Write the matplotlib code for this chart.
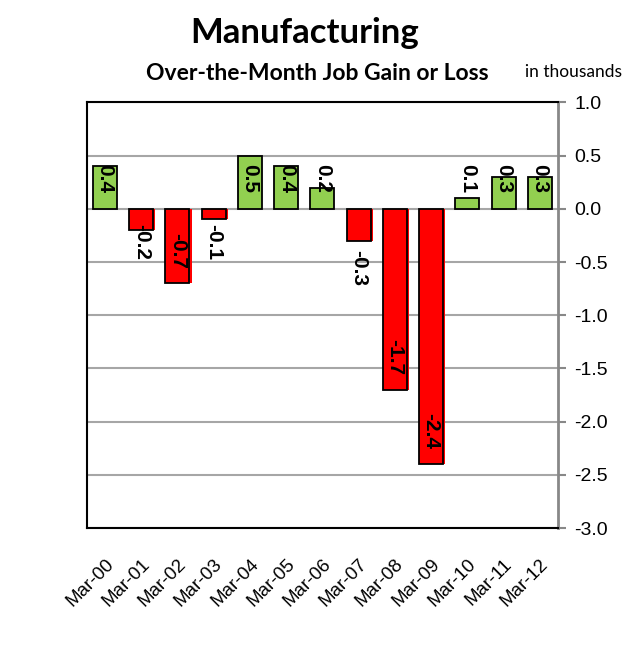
import numpy as np
import matplotlib.pyplot as plt

# ---------------- data ----------------
months = ["Mar-00", "Mar-01", "Mar-02", "Mar-03", "Mar-04", "Mar-05", "Mar-06",
          "Mar-07", "Mar-08", "Mar-09", "Mar-10", "Mar-11", "Mar-12"]
change = [0.4, -0.2, -0.7, -0.1, 0.5, 0.4, 0.2, -0.3, -1.7, -2.4, 0.1, 0.3, 0.3]
yticks = [1.0, 0.5, 0.0, -0.5, -1.0, -1.5, -2.0, -2.5, -3.0]

GREEN = "#92D050"
RED = "#FF0000"
GRID = "#A6A6A6"

fig = plt.figure(figsize=(6.34, 6.48), dpi=100)
ax = fig.add_axes([0.137, 0.185, 0.743, 0.657])

x = np.arange(len(change))
vals = np.array(change)
colors = [GREEN if v >= 0 else RED for v in vals]

# red bars have a small red shadow in the original
neg = vals < 0
ax.bar(x[neg] + 0.06, vals[neg], width=0.66, color=RED, zorder=2)
ax.bar(x, vals, width=0.66, color=colors, edgecolor="black", linewidth=1.3, zorder=3)

# ---------------- value labels ----------------
for xi, v in zip(x, vals):
    if v >= 0:
        ypos, va = 0.42, "top"
    elif v <= -0.5:
        ypos, va = v + 0.14, "bottom"
    elif v <= -0.3:
        ypos, va = v - 0.09, "top"
    else:
        ypos, va = -0.14, "top"
    ax.text(xi, ypos, f"{v:.1f}", rotation=-90, ha="center", va=va,
            fontsize=15, fontweight="bold", family="Liberation Sans", zorder=4)

# ---------------- axes ----------------
ax.set_xlim(-0.5, len(change) - 0.5)
ax.set_ylim(-3.0, 1.0)
ax.set_yticks(yticks)
ax.set_yticklabels([f"{t:.1f}" for t in yticks], family="Liberation Sans", fontsize=14)
ax.yaxis.tick_right()
ax.tick_params(axis="y", direction="out", length=6, width=1.5, color="#888888", pad=6)
ax.yaxis.grid(True, color=GRID, linewidth=1.5, zorder=0)
ax.set_axisbelow(True)

ax.set_xticks(x)
ax.set_xticklabels(months, rotation=45, ha="right", rotation_mode="anchor",
                   family="Liberation Sans", fontsize=13.5)
ax.tick_params(axis="x", length=0, pad=20)

for side in ["left", "top", "bottom"]:
    ax.spines[side].set_color("black")
    ax.spines[side].set_linewidth(1.5)
ax.spines["right"].set_color("#888888")
ax.spines["right"].set_linewidth(2)

# ---------------- titles ----------------
fig.text(0.48, 0.949, "Manufacturing", ha="center", va="center",
         fontsize=25, fontweight="bold", family="Lato")
fig.text(0.50, 0.887, "Over-the-Month Job Gain or Loss", ha="center", va="center",
         fontsize=16.5, fontweight="bold", family="Lato")
fig.text(0.905, 0.889, "in thousands", ha="center", va="center",
         fontsize=12.5, family="Lato")

fig.savefig("out.png", dpi=100)
